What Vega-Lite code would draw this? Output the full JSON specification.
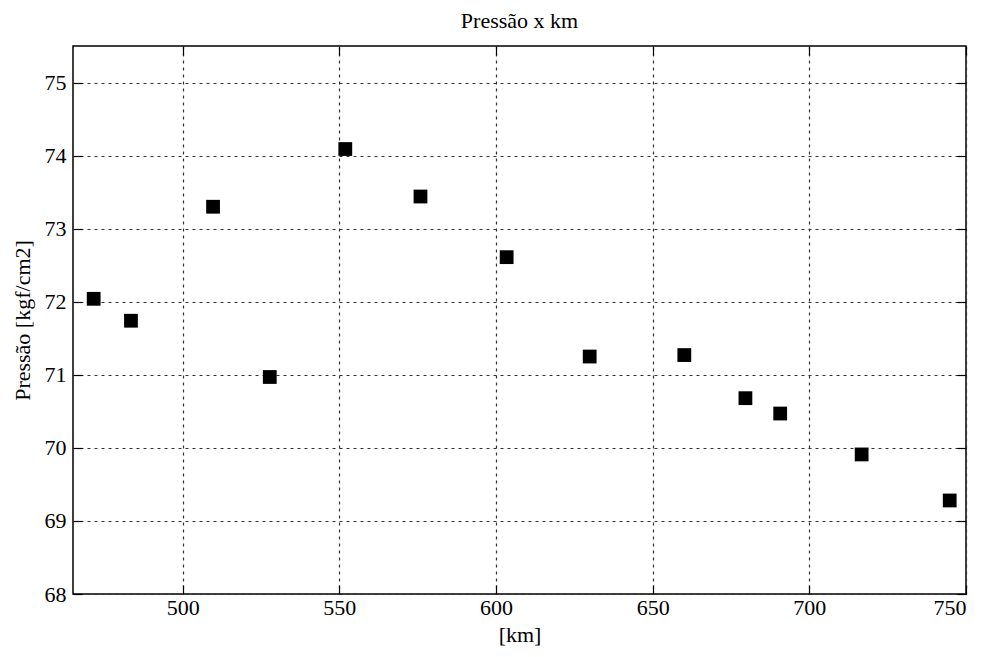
{
  "$schema": "https://vega.github.io/schema/vega-lite/v6.json",
  "autosize": {"type": "none"},
  "padding": {"left": 73, "top": 46, "right": 26, "bottom": 63},
  "width": 893,
  "height": 548,
  "background": "white",
  "title": {"text": "Pressão x km", "font": "Liberation Serif", "fontSize": 22, "fontWeight": "normal", "color": "black", "offset": 12},
  "config": {
    "view": {"stroke": "black", "strokeWidth": 1.5},
    "axis": {
      "labelFont": "Liberation Serif", "labelFontSize": 22, "labelColor": "black",
      "titleFont": "Liberation Serif", "titleFontSize": 22, "titleFontWeight": "normal", "titleColor": "black",
      "grid": true, "gridColor": "#333333", "gridDash": [3, 4], "gridWidth": 1.2, "gridOpacity": 1,
      "domain": false, "ticks": true, "tickSize": -9, "tickColor": "black", "tickWidth": 1.2
    }
  },
  "data": {"values": [
    {"km": 471.6, "p": 72.04},
    {"km": 483.5, "p": 71.74},
    {"km": 509.7, "p": 73.30},
    {"km": 527.8, "p": 70.97},
    {"km": 551.9, "p": 74.09},
    {"km": 575.9, "p": 73.44},
    {"km": 603.4, "p": 72.61},
    {"km": 629.9, "p": 71.25},
    {"km": 660.1, "p": 71.27},
    {"km": 679.6, "p": 70.68},
    {"km": 690.7, "p": 70.47},
    {"km": 716.7, "p": 69.91},
    {"km": 744.8, "p": 69.28}
  ]},
  "resolve": {"axis": {"x": "independent", "y": "independent"}},
  "layer": [
    {
      "mark": {"type": "square", "size": 190, "color": "black", "opacity": 1, "filled": true},
      "encoding": {
        "x": {"field": "km", "type": "quantitative", "title": "[km]",
          "scale": {"domain": [465, 750], "nice": false, "zero": false},
          "axis": {"values": [500, 550, 600, 650, 700, 750], "labelPadding": 12, "titlePadding": 6}},
        "y": {"field": "p", "type": "quantitative", "title": "Pressão [kgf/cm2]",
          "scale": {"domain": [68, 75.5], "nice": false, "zero": false},
          "axis": {"values": [68, 69, 70, 71, 72, 73, 74, 75], "labelPadding": 16, "titlePadding": 10}}
      }
    },
    {
      "mark": {"type": "square", "size": 190, "opacity": 0},
      "encoding": {
        "x": {"field": "km", "type": "quantitative",
          "axis": {"orient": "top", "values": [500, 550, 600, 650, 700, 750], "labels": false, "title": null, "grid": false}},
        "y": {"field": "p", "type": "quantitative",
          "axis": {"orient": "right", "values": [68, 69, 70, 71, 72, 73, 74, 75], "labels": false, "title": null, "grid": false}}
      }
    }
  ]
}
